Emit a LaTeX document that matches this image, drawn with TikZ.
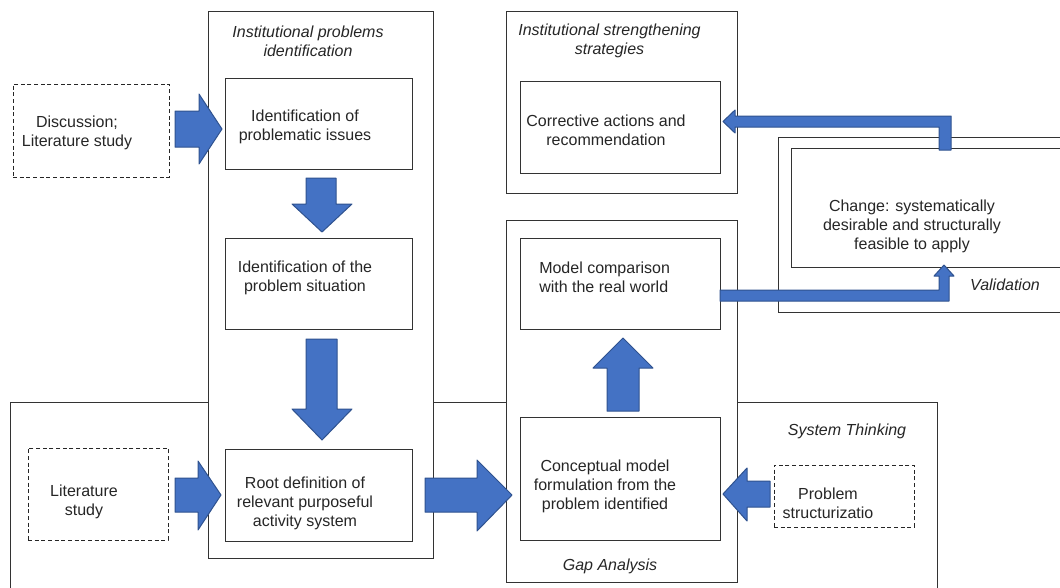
\documentclass[tikz,border=0pt]{standalone}
\usepackage{fontspec}
\setmainfont{Liberation Sans}
\usetikzlibrary{fit,calc}
\definecolor{arrowblue}{HTML}{4472C4}
\definecolor{arrowedge}{HTML}{2F528F}
\definecolor{textgray}{HTML}{262626}

\begin{document}
\begin{tikzpicture}[x=0.75pt,y=-0.75pt,
    frame/.style={draw=black!80, line width=0.75pt, inner sep=0pt, fill=white},
    box/.style={draw=black!80, line width=0.75pt, inner sep=0pt},
    dashbox/.style={draw=black!85, line width=0.75pt, dash pattern=on 3pt off 2pt, inner sep=0pt},
    txt/.style={font=\fontsize{12}{14.25}\selectfont, align=center, text=textgray, inner sep=0pt},
    ttl/.style={txt, font=\fontsize{12}{14.25}\selectfont\itshape},
    blockarrow/.style={fill=arrowblue, draw=arrowedge, line width=0.75pt, line join=round}]
    \useasboundingbox (0,0) rectangle (1060,587);
    \clip (0,0) rectangle (1060,587);

    % Outer frames
    \node[frame, fit={(10,402) (937,600)}] (systhink) {};
    \node[frame, fit={(208,11) (433,558)}] (probid) {};
    \node[frame, fit={(506,11) (737,193)}] (strength) {};
    \node[frame, fit={(506,220) (737,582)}] (gap) {};
    \node[frame, fit={(778,137) (1075,312)}] (valid) {};

    % Frame titles
    \node[ttl] (probidT) at (308,41) {Institutional problems\\identification};
    \node[ttl] (strengthT) at (609.5,41) {Institutional strengthening\\strategies};
    \node[ttl] (systhinkT) at (847,431) {System Thinking};
    \node[ttl] (gapT) at (610,566) {Gap Analysis};
    \node[ttl] (validT) at (1005,285) {Validation};

    % Inputs (dashed)
    \node[dashbox, fit={(13,84) (169,177)}] (disc) {};
    \node[dashbox, fit={(28,448) (168,540)}] (litstudy) {};
    \node[dashbox, fit={(774,465) (914,527)}] (probstruct) {};
    \node[txt] (discT) at (77,133) {Discussion;\\Literature study};
    \node[txt] (litstudyT) at (84,502) {Literature\\study};
    \node[txt] (probstructT) at (828,503.5) {Problem\\structurizatio};

    % Process boxes
    \node[box, fit={(225,78) (412,169)}] (issues) {};
    \node[box, fit={(225,238) (412,329)}] (situation) {};
    \node[box, fit={(225,449) (412,541)}] (rootdef) {};
    \node[box, fit={(520,81) (720,173)}] (corrective) {};
    \node[box, fit={(520,238) (720,329)}] (model) {};
    \node[box, fit={(520,417) (720,540)}] (concept) {};
    \node[box, fit={(791,148) (1075,267)}] (change) {};

    \node[txt] (issuesT) at (305,127) {Identification of\\problematic issues};
    \node[txt] (situationT) at (305,277.5) {Identification of the\\problem situation};
    \node[txt] (rootdefT) at (305,503) {Root definition of\\relevant purposeful\\activity system};
    \node[txt] (correctiveT) at (606,130) {Corrective actions and\\recommendation};
    \node[txt, align=left, anchor=west] (modelT) at (539,277) {Model comparison\\with the real world};
    \node[txt] (conceptT) at (605,486.5) {Conceptual model\\formulation from the\\problem identified};
    \node[txt] (changeT) at (912,226.5) {Change: systematically\\desirable and structurally\\feasible to apply};

    % Block arrows
    \draw[blockarrow] (175,111) -- (199,111) -- (199,94) -- (222,129) -- (199,164) -- (199,147) -- (175,147) -- cycle;
    \draw[blockarrow] (306,178) -- (336,178) -- (336,204) -- (352,204) -- (322,232) -- (292,204) -- (306,204) -- cycle;
    \draw[blockarrow] (306,339) -- (337,339) -- (337,409) -- (352,409) -- (322,440) -- (292,409) -- (306,409) -- cycle;
    \draw[blockarrow] (175,478) -- (198,478) -- (198,461) -- (221,495) -- (198,530) -- (198,512) -- (175,512) -- cycle;
    \draw[blockarrow] (425,478) -- (477,478) -- (477,460) -- (512,495) -- (477,531) -- (477,512) -- (425,512) -- cycle;
    \draw[blockarrow] (607,411) -- (607,368) -- (593,368) -- (623,338) -- (653,368) -- (639,368) -- (639,411) -- cycle;
    \draw[blockarrow] (770,481) -- (747,481) -- (747,468) -- (723,494) -- (747,521) -- (747,507) -- (770,507) -- cycle;

    % Elbow arrows
    \draw[blockarrow] (939,150) -- (939,127) -- (735,127) -- (735,133) -- (723,121.5) -- (735,110) -- (735,116) -- (951,116) -- (951,150) -- cycle;
    \draw[blockarrow] (720,290) -- (939,290) -- (939,276) -- (934,276) -- (944,265) -- (954,276) -- (949,276) -- (949,301) -- (720,301) -- cycle;
\end{tikzpicture}
\end{document}
